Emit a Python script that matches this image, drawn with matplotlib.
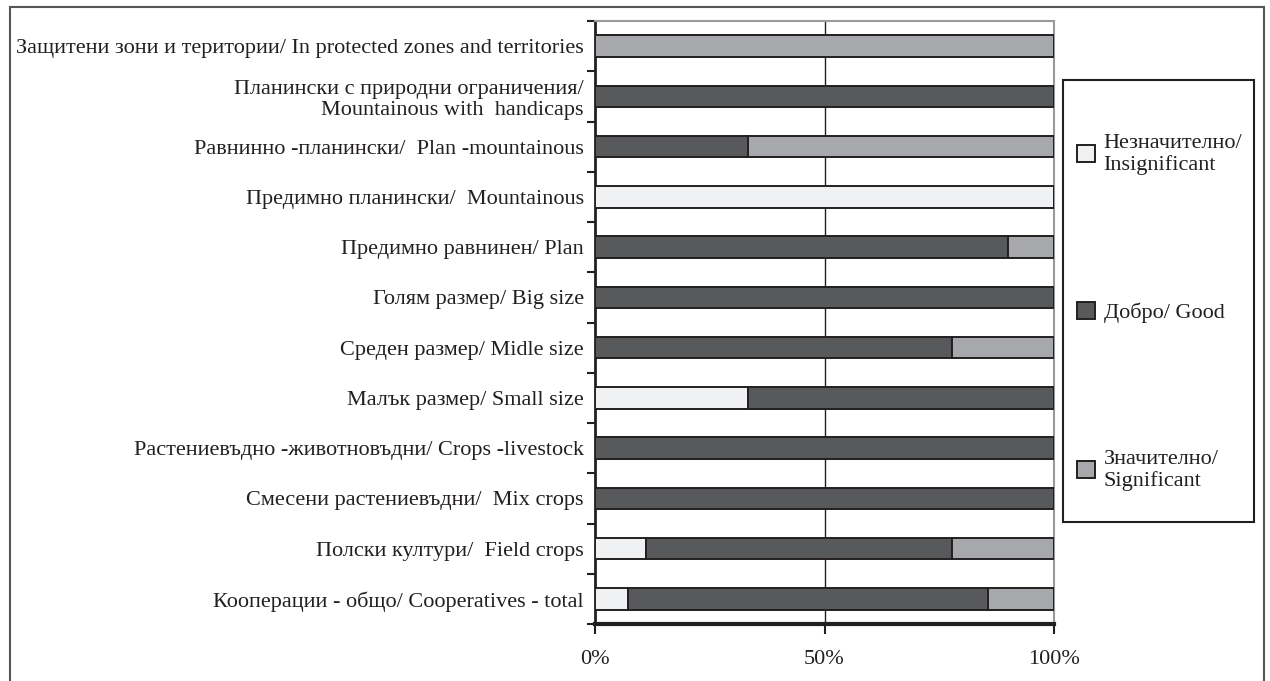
import numpy as np
import matplotlib
matplotlib.use('Agg')
import matplotlib.pyplot as plt
from matplotlib.patches import Rectangle

plt.rcParams['font.family'] = ['Liberation Serif', 'DejaVu Serif']

# categories, bottom to top
categories = [
    'Кооперации - общо/ Cooperatives - total',
    'Полски култури/  Field crops',
    'Смесени растениевъдни/  Mix crops',
    'Растениевъдно -животновъдни/ Crops -livestock',
    'Малък размер/ Small size',
    'Среден размер/ Midle size',
    'Голям размер/ Big size',
    'Предимно равнинен/ Plan',
    'Предимно планински/  Mountainous',
    'Равнинно -планински/  Plan -mountainous',
    'Планински с природни ограничения/\nMountainous with  handicaps',
    'Защитени зони и територии/ In protected zones and territories',
]
insignificant = [7.1, 11.1, 0, 0, 33.3, 0, 0, 0, 100, 0, 0, 0]
good = [78.6, 66.7, 100, 100, 66.7, 77.8, 100, 90, 0, 33.3, 100, 0]
significant = [14.3, 22.2, 0, 0, 0, 22.2, 0, 10, 0, 66.7, 0, 100]

series_labels = ['Незначително/\nInsignificant', 'Добро/ Good', 'Значително/\nSignificant']
colors = ['#f0f1f3', '#58595b', '#a7a8ab']
xticks = [0, 50, 100]
xticklabels = ['0%', '50%', '100%']

fig = plt.figure(figsize=(12.7, 6.81), dpi=100)
ax = fig.add_axes([595 / 1270, 1 - 624 / 681, (1054 - 595) / 1270, (624 - 21) / 681])

y = np.arange(len(categories))
left = np.zeros(len(categories))
handles = []
for vals, col, lab in zip([insignificant, good, significant], colors, series_labels):
    vals = np.array(vals, dtype=float)
    b = ax.barh(y, vals, left=left, height=0.43, color=col, edgecolor='#231f20',
                linewidth=1.4, label=lab, zorder=3)
    handles.append(b)
    left = left + vals

ax.set_xlim(0, 100)
ax.set_ylim(-0.5, len(categories) - 0.5)
ax.axvline(50, color='#231f20', linewidth=1.0, zorder=1)

ax.set_yticks(y)
ax.set_yticklabels(categories, fontsize=16, color='#231f20', ha='right', linespacing=1.15)
ax.set_yticks(np.arange(-0.5, len(categories), 1), minor=True)
ax.tick_params(axis='y', which='major', length=0, pad=8)
ax.tick_params(axis='y', which='minor', length=6, width=1.5, color='#231f20')

ax.set_xticks(xticks)
ax.set_xticklabels(xticklabels, fontsize=16, color='#231f20')
ax.tick_params(axis='x', length=7, width=1.5, color='#231f20', pad=12)

ax.spines['left'].set_color('#231f20')
ax.spines['left'].set_linewidth(2)
ax.spines['bottom'].set_color('#231f20')
ax.spines['bottom'].set_linewidth(3)
ax.spines['top'].set_color('#9a9a9c')
ax.spines['top'].set_linewidth(1.5)
ax.spines['right'].set_color('#9a9a9c')
ax.spines['right'].set_linewidth(1.5)

# legend box drawn separately, legend entries without frame
fig.patches.append(Rectangle((1063 / 1270, 1 - 522 / 681), (1254 - 1063) / 1270, (522 - 80) / 681,
                             transform=fig.transFigure, fill=False,
                             edgecolor='#231f20', linewidth=1.5))
leg = ax.legend(handles=handles, loc='upper left',
                bbox_to_anchor=(1077 / 1270, 1 - 134 / 681), bbox_transform=fig.transFigure,
                fontsize=16, frameon=False, labelspacing=5.7, borderpad=0,
                handlelength=0.8, handleheight=0.8, handletextpad=0.4,
                borderaxespad=0)
for t in leg.get_texts():
    t.set_color('#231f20')
    t.set_linespacing(1.15)

# outer frame (open at the bottom)
fig.patches.append(Rectangle((10 / 1270, -0.1), (1264 - 10) / 1270, 1.1 - 7 / 681,
                             transform=fig.transFigure, fill=False,
                             edgecolor='#555555', linewidth=1.5))

plt.savefig('out.png', dpi=100)
